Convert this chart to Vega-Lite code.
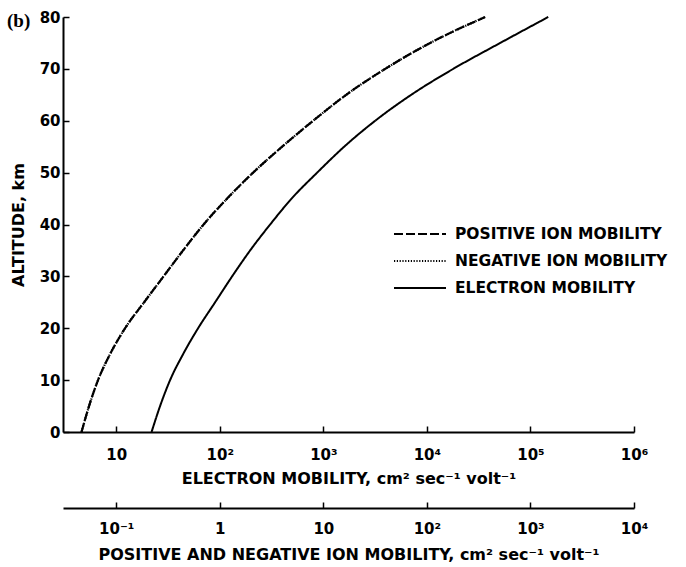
{
  "$schema": "https://vega.github.io/schema/vega-lite/v6.json",
  "width": 571,
  "height": 415,
  "autosize": {"type": "none"},
  "padding": {"left": 63, "top": 17, "right": 52, "bottom": 135},
  "background": "white",
  "title": {"text": "(b)", "anchor": "start", "frame": "group", "orient": "top", "offset": 0, "dx": -56, "dy": 36, "baseline": "alphabetic", "font": "Liberation Serif", "fontSize": 19, "fontWeight": "bold", "color": "black"},
  "config": {
    "view": {"stroke": null},
    "axis": {"domainColor": "black", "domainWidth": 2, "tickColor": "black", "tickWidth": 1.5, "tickSize": -6, "labelFont": "DejaVu Sans", "labelFontWeight": "bold", "labelFontSize": 15, "labelColor": "black", "titleFont": "DejaVu Sans", "titleFontWeight": "bold", "titleFontSize": 16, "titleColor": "black", "grid": false, "labelOverlap": false, "labelFlush": false}
  },
  "datasets": {
    "mob": [
      {"species": "ELECTRON MOBILITY", "alt": 0, "mu": 21.93},
      {"species": "ELECTRON MOBILITY", "alt": 5, "mu": 26.5},
      {"species": "ELECTRON MOBILITY", "alt": 10, "mu": 33.1},
      {"species": "ELECTRON MOBILITY", "alt": 15, "mu": 44.19},
      {"species": "ELECTRON MOBILITY", "alt": 20, "mu": 61.7},
      {"species": "ELECTRON MOBILITY", "alt": 25, "mu": 90.08},
      {"species": "ELECTRON MOBILITY", "alt": 30, "mu": 131.5},
      {"species": "ELECTRON MOBILITY", "alt": 35, "mu": 196.3},
      {"species": "ELECTRON MOBILITY", "alt": 40, "mu": 306.2},
      {"species": "ELECTRON MOBILITY", "alt": 45, "mu": 493.9},
      {"species": "ELECTRON MOBILITY", "alt": 50, "mu": 871.3},
      {"species": "ELECTRON MOBILITY", "alt": 55, "mu": 1589},
      {"species": "ELECTRON MOBILITY", "alt": 60, "mu": 3168},
      {"species": "ELECTRON MOBILITY", "alt": 65, "mu": 7052},
      {"species": "ELECTRON MOBILITY", "alt": 70, "mu": 17960},
      {"species": "ELECTRON MOBILITY", "alt": 75, "mu": 51080},
      {"species": "ELECTRON MOBILITY", "alt": 80, "mu": 148600},
      {"species": "POSITIVE ION MOBILITY", "alt": 0, "mu": 0.0462},
      {"species": "POSITIVE ION MOBILITY", "alt": 5, "mu": 0.0546},
      {"species": "POSITIVE ION MOBILITY", "alt": 10, "mu": 0.0667},
      {"species": "POSITIVE ION MOBILITY", "alt": 15, "mu": 0.0871},
      {"species": "POSITIVE ION MOBILITY", "alt": 20, "mu": 0.1216},
      {"species": "POSITIVE ION MOBILITY", "alt": 25, "mu": 0.1856},
      {"species": "POSITIVE ION MOBILITY", "alt": 30, "mu": 0.2864},
      {"species": "POSITIVE ION MOBILITY", "alt": 35, "mu": 0.4419},
      {"species": "POSITIVE ION MOBILITY", "alt": 40, "mu": 0.6975},
      {"species": "POSITIVE ION MOBILITY", "alt": 45, "mu": 1.176},
      {"species": "POSITIVE ION MOBILITY", "alt": 50, "mu": 2.097},
      {"species": "POSITIVE ION MOBILITY", "alt": 55, "mu": 3.999},
      {"species": "POSITIVE ION MOBILITY", "alt": 60, "mu": 7.97},
      {"species": "POSITIVE ION MOBILITY", "alt": 65, "mu": 16.61},
      {"species": "POSITIVE ION MOBILITY", "alt": 70, "mu": 39.55},
      {"species": "POSITIVE ION MOBILITY", "alt": 75, "mu": 107.6},
      {"species": "POSITIVE ION MOBILITY", "alt": 80, "mu": 365.9},
      {"species": "NEGATIVE ION MOBILITY", "alt": 0, "mu": 0.0462},
      {"species": "NEGATIVE ION MOBILITY", "alt": 5, "mu": 0.0546},
      {"species": "NEGATIVE ION MOBILITY", "alt": 10, "mu": 0.0667},
      {"species": "NEGATIVE ION MOBILITY", "alt": 15, "mu": 0.0871},
      {"species": "NEGATIVE ION MOBILITY", "alt": 20, "mu": 0.1216},
      {"species": "NEGATIVE ION MOBILITY", "alt": 25, "mu": 0.1856},
      {"species": "NEGATIVE ION MOBILITY", "alt": 30, "mu": 0.2864},
      {"species": "NEGATIVE ION MOBILITY", "alt": 35, "mu": 0.4419},
      {"species": "NEGATIVE ION MOBILITY", "alt": 40, "mu": 0.6975},
      {"species": "NEGATIVE ION MOBILITY", "alt": 45, "mu": 1.176},
      {"species": "NEGATIVE ION MOBILITY", "alt": 50, "mu": 2.097},
      {"species": "NEGATIVE ION MOBILITY", "alt": 55, "mu": 3.999},
      {"species": "NEGATIVE ION MOBILITY", "alt": 60, "mu": 7.97},
      {"species": "NEGATIVE ION MOBILITY", "alt": 65, "mu": 16.61},
      {"species": "NEGATIVE ION MOBILITY", "alt": 70, "mu": 39.55},
      {"species": "NEGATIVE ION MOBILITY", "alt": 75, "mu": 107.6},
      {"species": "NEGATIVE ION MOBILITY", "alt": 80, "mu": 365.9}
    ]
  },
  "layer": [
    {
      "data": {"name": "mob"},
      "transform": [{"filter": "datum.species == 'ELECTRON MOBILITY'"}],
      "mark": {"type": "line", "color": "black", "strokeWidth": 2, "interpolate": "monotone"},
      "encoding": {
        "x": {"field": "mu", "type": "quantitative", "scale": {"type": "log", "domain": [3.06, 1000000], "nice": false},
          "axis": {"orient": "bottom", "values": [10, 100, 1000, 10000, 100000, 1000000], "labelExpr": "datum.value == 10 ? '10' : datum.value == 100 ? '10²' : datum.value == 1000 ? '10³' : datum.value == 10000 ? '10⁴' : datum.value == 100000 ? '10⁵' : '10⁶'", "title": "ELECTRON MOBILITY, cm² sec⁻¹ volt⁻¹", "labelPadding": 21, "titlePadding": 8, "offset": 0}},
        "y": {"field": "alt", "type": "quantitative", "scale": {"domain": [0, 80], "nice": false},
          "axis": {"values": [0, 10, 20, 30, 40, 50, 60, 70, 80], "title": "ALTITUDE, km", "labelPadding": 9, "titlePadding": 13}},
        "strokeDash": {"field": "species", "type": "nominal",
          "scale": {"domain": ["POSITIVE ION MOBILITY", "NEGATIVE ION MOBILITY", "ELECTRON MOBILITY"], "range": [[9, 3], [1.2, 1.6], [1, 0]]},
          "legend": {"orient": "none", "legendX": 330, "legendY": 209, "title": null, "symbolType": "stroke", "symbolSize": 2704, "symbolStrokeWidth": 2, "symbolStrokeColor": "black", "labelFont": "DejaVu Sans", "labelFontWeight": "bold", "labelFontSize": 15.5, "labelColor": "black", "labelOffset": 8, "labelLimit": 400, "clipHeight": 16, "rowPadding": 10}},
        "order": {"field": "alt", "type": "quantitative"}
      }
    },
    {
      "data": {"name": "mob"},
      "transform": [{"filter": "datum.species != 'ELECTRON MOBILITY'"}],
      "mark": {"type": "line", "color": "black", "strokeWidth": 2.2, "interpolate": "monotone"},
      "encoding": {
        "x": {"field": "mu", "type": "quantitative", "scale": {"type": "log", "domain": [0.0306, 10000], "nice": false},
          "axis": {"orient": "bottom", "values": [0.1, 1, 10, 100, 1000, 10000], "labelExpr": "datum.value == 0.1 ? '10⁻¹' : datum.value == 1 ? '1' : datum.value == 10 ? '10' : datum.value == 100 ? '10²' : datum.value == 1000 ? '10³' : '10⁴'", "title": "POSITIVE AND NEGATIVE ION MOBILITY, cm² sec⁻¹ volt⁻¹", "labelPadding": 19, "titlePadding": 10, "offset": 76}},
        "y": {"field": "alt", "type": "quantitative"},
        "strokeDash": {"field": "species", "type": "nominal",
          "scale": {"domain": ["POSITIVE ION MOBILITY", "NEGATIVE ION MOBILITY", "ELECTRON MOBILITY"], "range": [[9, 3], [1.2, 1.6], [1, 0]]}},
        "order": {"field": "alt", "type": "quantitative"}
      }
    }
  ],
  "resolve": {"scale": {"x": "independent"}}
}
